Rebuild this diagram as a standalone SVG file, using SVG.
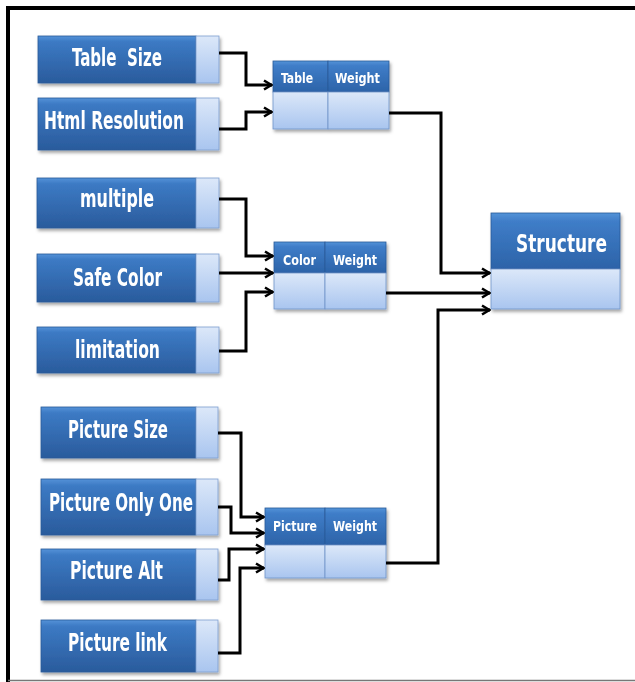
<svg xmlns="http://www.w3.org/2000/svg" width="635" height="682" viewBox="0 0 635 682">
  <defs>
    <linearGradient id="gDark" x1="0" y1="0" x2="0" y2="1">
      <stop offset="0" stop-color="#5592d8"/>
      <stop offset="0.12" stop-color="#3c7ac4"/>
      <stop offset="1" stop-color="#2a5b9c"/>
    </linearGradient>
    <linearGradient id="gLight" x1="0" y1="0" x2="0" y2="1">
      <stop offset="0" stop-color="#dce8f9"/>
      <stop offset="1" stop-color="#a9c5ef"/>
    </linearGradient>
    <linearGradient id="gHead" x1="0" y1="0" x2="0" y2="1">
      <stop offset="0" stop-color="#5493d8"/>
      <stop offset="0.15" stop-color="#3f7dc8"/>
      <stop offset="1" stop-color="#2c63a8"/>
    </linearGradient>
    <filter id="shadow" x="-10%" y="-10%" width="130%" height="140%">
      <feDropShadow dx="1.5" dy="2.5" stdDeviation="1.8" flood-color="#000" flood-opacity="0.35"/>
    </filter>
    <marker id="arrow" viewBox="0 0 12 12" refX="11" refY="6" markerWidth="12" markerHeight="12" markerUnits="userSpaceOnUse" orient="auto">
      <path d="M3,1.5 L10.5,6 L3,10.5" fill="none" stroke="#000" stroke-width="2.6"/>
    </marker>
  </defs>
  <style>
    .dark { fill: url(#gDark); stroke: #2a5a98; stroke-width: 0.8; }
    .tab { fill: url(#gLight); stroke: #7d9fd0; stroke-width: 0.8; }
    .head { fill: url(#gHead); stroke: #2a5a98; stroke-width: 0.8; }
    .body { fill: url(#gLight); stroke: #6f93c8; stroke-width: 0.8; }
    .lbl { font-family: "Liberation Sans Narrow", "DejaVu Sans Condensed", "Liberation Sans", sans-serif; font-weight: bold; fill: #ffffff; }
    .big { font-size: 24px; }
    .small { font-size: 14.5px; }
    .title { font-size: 25px; }
    .wire { fill: none; stroke: #000; stroke-width: 3; stroke-linejoin: miter; }
  </style>

  <rect x="0" y="0" width="635" height="682" fill="#ffffff"/>

  <!-- outer frame -->
  <g id="frame">
    <line x1="6" y1="8" x2="635" y2="8" stroke="#000" stroke-width="4"/>
    <line x1="8" y1="6" x2="8" y2="682" stroke="#000" stroke-width="4"/>
    <line x1="8" y1="680.5" x2="635" y2="680.5" stroke="#777" stroke-width="1.5"/>
  </g>

  <!-- input factors -->
  <g id="table-size" filter="url(#shadow)">
    <rect class="dark" x="38" y="36" width="158" height="47"/>
    <rect class="tab" x="196" y="36" width="23" height="47"/>
    <text class="lbl big" x="72" y="66" textLength="90" lengthAdjust="spacingAndGlyphs" xml:space="preserve">Table  Size</text>
  </g>
  <g id="html-resolution" filter="url(#shadow)">
    <rect class="dark" x="38" y="98" width="158" height="52"/>
    <rect class="tab" x="196" y="98" width="23" height="52"/>
    <text class="lbl big" x="44" y="129" textLength="140" lengthAdjust="spacingAndGlyphs">Html Resolution</text>
  </g>
  <g id="multiple" filter="url(#shadow)">
    <rect class="dark" x="37" y="178" width="159" height="50"/>
    <rect class="tab" x="196" y="178" width="23" height="50"/>
    <text class="lbl big" x="80" y="207" textLength="74" lengthAdjust="spacingAndGlyphs">multiple</text>
  </g>
  <g id="safe-color" filter="url(#shadow)">
    <rect class="dark" x="37" y="254" width="159" height="48"/>
    <rect class="tab" x="196" y="254" width="23" height="48"/>
    <text class="lbl big" x="73" y="286" textLength="89" lengthAdjust="spacingAndGlyphs">Safe Color</text>
  </g>
  <g id="limitation" filter="url(#shadow)">
    <rect class="dark" x="37" y="327" width="159" height="46"/>
    <rect class="tab" x="196" y="327" width="23" height="46"/>
    <text class="lbl big" x="75" y="358" textLength="85" lengthAdjust="spacingAndGlyphs">limitation</text>
  </g>
  <g id="picture-size" filter="url(#shadow)">
    <rect class="dark" x="41" y="407" width="155" height="51"/>
    <rect class="tab" x="196" y="407" width="22" height="51"/>
    <text class="lbl big" x="68" y="438" textLength="100" lengthAdjust="spacingAndGlyphs">Picture Size</text>
  </g>
  <g id="picture-only-one" filter="url(#shadow)">
    <rect class="dark" x="41" y="479" width="155" height="56"/>
    <rect class="tab" x="196" y="479" width="22" height="56"/>
    <text class="lbl big" x="49" y="511" textLength="144" lengthAdjust="spacingAndGlyphs">Picture Only One</text>
  </g>
  <g id="picture-alt" filter="url(#shadow)">
    <rect class="dark" x="41" y="549" width="155" height="51"/>
    <rect class="tab" x="196" y="549" width="22" height="51"/>
    <text class="lbl big" x="70" y="579" textLength="93" lengthAdjust="spacingAndGlyphs">Picture Alt</text>
  </g>
  <g id="picture-link" filter="url(#shadow)">
    <rect class="dark" x="41" y="620" width="155" height="52"/>
    <rect class="tab" x="196" y="620" width="22" height="52"/>
    <text class="lbl big" x="68" y="651" textLength="99" lengthAdjust="spacingAndGlyphs">Picture link</text>
  </g>

  <!-- weighting tables -->
  <g id="table-weight" filter="url(#shadow)">
    <rect class="head" x="273" y="61" width="55" height="31"/>
    <rect class="head" x="328" y="61" width="61" height="31"/>
    <rect class="body" x="273" y="92" width="55" height="37"/>
    <rect class="body" x="328" y="92" width="61" height="37"/>
    <text class="lbl small" x="281" y="83" textLength="32" lengthAdjust="spacingAndGlyphs">Table</text>
    <text class="lbl small" x="335" y="83" textLength="45" lengthAdjust="spacingAndGlyphs">Weight</text>
  </g>
  <g id="color-weight" filter="url(#shadow)">
    <rect class="head" x="274" y="242" width="51" height="31"/>
    <rect class="head" x="325" y="242" width="61" height="31"/>
    <rect class="body" x="274" y="273" width="51" height="36"/>
    <rect class="body" x="325" y="273" width="61" height="36"/>
    <text class="lbl small" x="283" y="265" textLength="33" lengthAdjust="spacingAndGlyphs">Color</text>
    <text class="lbl small" x="333" y="265" textLength="44" lengthAdjust="spacingAndGlyphs">Weight</text>
  </g>
  <g id="picture-weight" filter="url(#shadow)">
    <rect class="head" x="265" y="508" width="60" height="37"/>
    <rect class="head" x="325" y="508" width="61" height="37"/>
    <rect class="body" x="265" y="545" width="60" height="33"/>
    <rect class="body" x="325" y="545" width="61" height="33"/>
    <text class="lbl small" x="273" y="531" textLength="44" lengthAdjust="spacingAndGlyphs">Picture</text>
    <text class="lbl small" x="333" y="531" textLength="44" lengthAdjust="spacingAndGlyphs">Weight</text>
  </g>

  <!-- result -->
  <g id="structure" filter="url(#shadow)">
    <rect class="head" x="491" y="213" width="129" height="56"/>
    <rect class="body" x="491" y="269" width="129" height="40"/>
    <text class="lbl title" x="516" y="252" textLength="91" lengthAdjust="spacingAndGlyphs">Structure</text>
  </g>

  <!-- connectors -->
  <g id="connectors">
    <path class="wire" d="M219,53 H246 V85 H272" marker-end="url(#arrow)"/>
    <path class="wire" d="M219,129 H246 V112 H272" marker-end="url(#arrow)"/>
    <path class="wire" d="M219,199 H246 V256 H273" marker-end="url(#arrow)"/>
    <path class="wire" d="M219,273 H273" marker-end="url(#arrow)"/>
    <path class="wire" d="M219,351 H246 V292 H273" marker-end="url(#arrow)"/>
    <path class="wire" d="M218,433 H241 V517 H264" marker-end="url(#arrow)"/>
    <path class="wire" d="M218,507 H231 V533 H264" marker-end="url(#arrow)"/>
    <path class="wire" d="M218,580 H229 V549 H264" marker-end="url(#arrow)"/>
    <path class="wire" d="M218,653 H240 V568 H264" marker-end="url(#arrow)"/>
    <path class="wire" d="M389,113 H441 V273 H490" marker-end="url(#arrow)"/>
    <path class="wire" d="M386,293 H490" marker-end="url(#arrow)"/>
    <path class="wire" d="M386,563 H438 V310 H490" marker-end="url(#arrow)"/>
  </g>
</svg>
